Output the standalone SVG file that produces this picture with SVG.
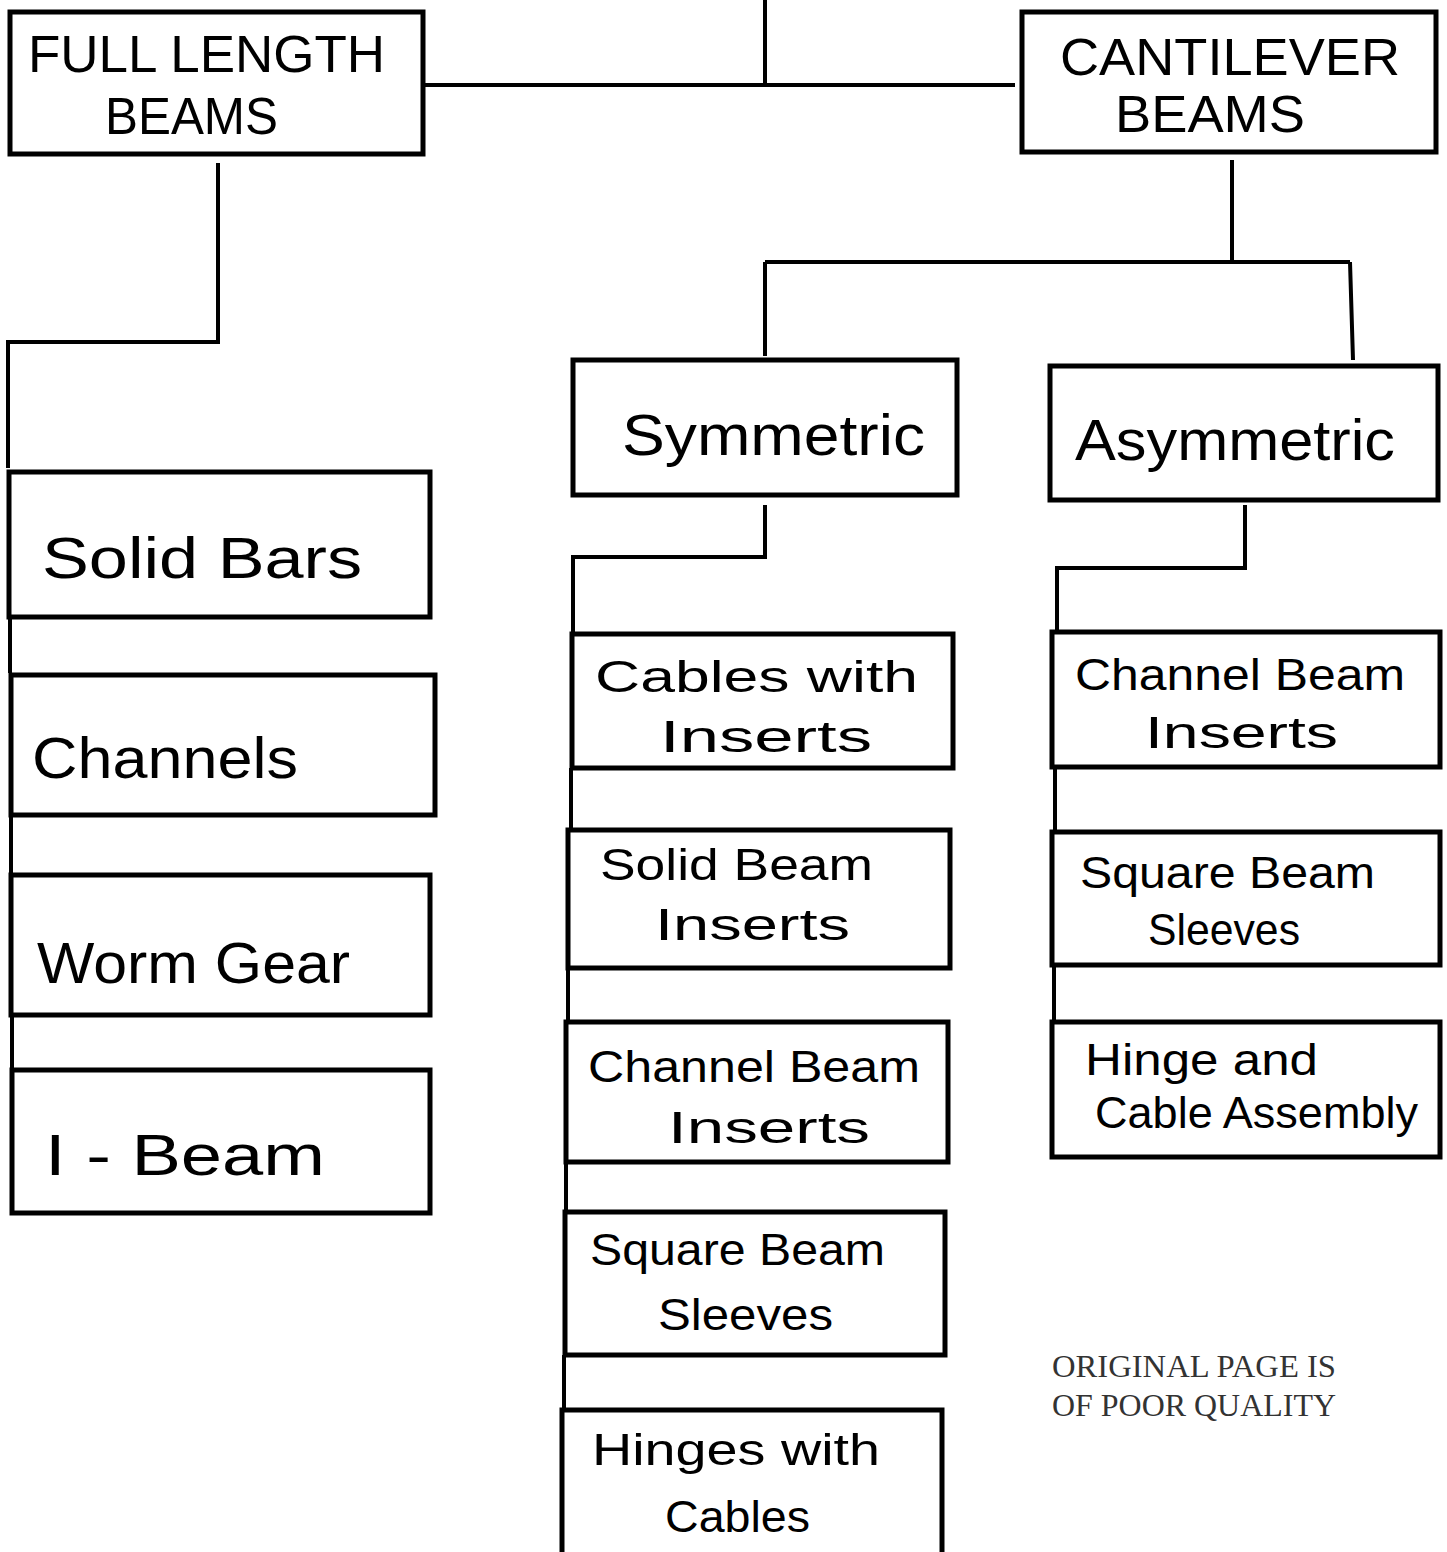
<svg xmlns="http://www.w3.org/2000/svg" width="1447" height="1552" viewBox="0 0 1447 1552">
<style>
.box{fill:#fff;stroke:#000;stroke-width:5}
.ln{fill:none;stroke:#000;stroke-width:4;stroke-linejoin:miter}
.hd{font-family:"Liberation Sans",Arial,sans-serif;font-size:52px;fill:#000}
.big{font-family:"Liberation Sans",Arial,sans-serif;font-size:58px;fill:#000}
.lb{font-family:"Liberation Sans",Arial,sans-serif;font-size:44px;fill:#000}
.note{font-family:"Liberation Serif","Times New Roman",serif;font-size:31px;fill:#333}
</style>
<rect width="1447" height="1552" fill="#fff"/>
<g id="connectors">
<path class="ln" d="M765,0 V85 M425,85 H1015"/>
<path class="ln" d="M218,163 V342 H8 V468"/>
<path class="ln" d="M1232,160 V262 M765,262 H1350 M765,262 V356 M1350,262 L1353,360"/>
<path class="ln" d="M765,505 V557 H573 V632"/>
<path class="ln" d="M1245,505 V568 H1057 V630"/>
<path class="ln" d="M10,617 V673 M11,815 V873 M12,1015 V1068"/>
<path class="ln" d="M571,768 V828 M568,968 V1020 M566,1162 V1210 M564,1355 V1408"/>
<path class="ln" d="M1055,767 V830 M1054,965 V1020"/>
</g>
<g id="full-length-beams">
<rect class="box" x="10" y="12" width="413" height="142"/>
<text class="hd" x="28" y="72" textLength="357" lengthAdjust="spacingAndGlyphs">FULL LENGTH</text>
<text class="hd" x="105" y="134" textLength="173" lengthAdjust="spacingAndGlyphs">BEAMS</text>
</g>
<g id="cantilever-beams">
<rect class="box" x="1022" y="12" width="414" height="140"/>
<text class="hd" x="1060" y="75" textLength="340" lengthAdjust="spacingAndGlyphs">CANTILEVER</text>
<text class="hd" x="1115" y="132" textLength="190" lengthAdjust="spacingAndGlyphs">BEAMS</text>
</g>
<g id="symmetric">
<rect class="box" x="573" y="360" width="384" height="135"/>
<text class="big" x="622" y="455" textLength="303" lengthAdjust="spacingAndGlyphs">Symmetric</text>
</g>
<g id="asymmetric">
<rect class="box" x="1050" y="366" width="388" height="134"/>
<text class="big" x="1075" y="460" textLength="320" lengthAdjust="spacingAndGlyphs">Asymmetric</text>
</g>
<g id="solid-bars">
<rect class="box" x="9" y="472" width="421" height="145"/>
<text class="big" x="42" y="578" textLength="320" lengthAdjust="spacingAndGlyphs">Solid Bars</text>
</g>
<g id="channels">
<rect class="box" x="11" y="675" width="424" height="140"/>
<text class="big" x="32" y="778" textLength="266" lengthAdjust="spacingAndGlyphs">Channels</text>
</g>
<g id="worm-gear">
<rect class="box" x="11" y="875" width="419" height="140"/>
<text class="big" x="37" y="983" textLength="313" lengthAdjust="spacingAndGlyphs">Worm Gear</text>
</g>
<g id="i-beam">
<rect class="box" x="12" y="1070" width="418" height="143"/>
<text class="big" x="45" y="1175" textLength="280" lengthAdjust="spacingAndGlyphs">I - Beam</text>
</g>
<g id="cables-with-inserts">
<rect class="box" x="572" y="634" width="381" height="134"/>
<text class="lb" x="595" y="692" textLength="323" lengthAdjust="spacingAndGlyphs">Cables with</text>
<text class="lb" x="660" y="752" textLength="212" lengthAdjust="spacingAndGlyphs">Inserts</text>
</g>
<g id="solid-beam-inserts">
<rect class="box" x="568" y="830" width="382" height="138"/>
<text class="lb" x="600" y="880" textLength="273" lengthAdjust="spacingAndGlyphs">Solid Beam</text>
<text class="lb" x="655" y="940" textLength="195" lengthAdjust="spacingAndGlyphs">Inserts</text>
</g>
<g id="channel-beam-inserts-sym">
<rect class="box" x="566" y="1022" width="382" height="140"/>
<text class="lb" x="588" y="1082" textLength="332" lengthAdjust="spacingAndGlyphs">Channel Beam</text>
<text class="lb" x="668" y="1143" textLength="202" lengthAdjust="spacingAndGlyphs">Inserts</text>
</g>
<g id="square-beam-sleeves-sym">
<rect class="box" x="565" y="1212" width="380" height="143"/>
<text class="lb" x="590" y="1265" textLength="295" lengthAdjust="spacingAndGlyphs">Square Beam</text>
<text class="lb" x="658" y="1330" textLength="175" lengthAdjust="spacingAndGlyphs">Sleeves</text>
</g>
<g id="hinges-with-cables">
<rect class="box" x="562" y="1410" width="380" height="150"/>
<text class="lb" x="592" y="1465" textLength="288" lengthAdjust="spacingAndGlyphs">Hinges with</text>
<text class="lb" x="665" y="1532" textLength="145" lengthAdjust="spacingAndGlyphs">Cables</text>
</g>
<g id="channel-beam-inserts-asym">
<rect class="box" x="1052" y="632" width="388" height="135"/>
<text class="lb" x="1075" y="690" textLength="330" lengthAdjust="spacingAndGlyphs">Channel Beam</text>
<text class="lb" x="1145" y="748" textLength="193" lengthAdjust="spacingAndGlyphs">Inserts</text>
</g>
<g id="square-beam-sleeves-asym">
<rect class="box" x="1052" y="832" width="388" height="133"/>
<text class="lb" x="1080" y="888" textLength="295" lengthAdjust="spacingAndGlyphs">Square Beam</text>
<text class="lb" x="1148" y="945" textLength="152" lengthAdjust="spacingAndGlyphs">Sleeves</text>
</g>
<g id="hinge-cable-assembly">
<rect class="box" x="1052" y="1022" width="388" height="135"/>
<text class="lb" x="1085" y="1075" textLength="233" lengthAdjust="spacingAndGlyphs">Hinge and</text>
<text class="lb" x="1095" y="1128" textLength="323" lengthAdjust="spacingAndGlyphs">Cable Assembly</text>
</g>
<g id="note">
<text class="note" x="1052" y="1377" textLength="284" lengthAdjust="spacingAndGlyphs">ORIGINAL PAGE IS</text>
<text class="note" x="1052" y="1416" textLength="284" lengthAdjust="spacingAndGlyphs">OF POOR QUALITY</text>
</g>
</svg>
